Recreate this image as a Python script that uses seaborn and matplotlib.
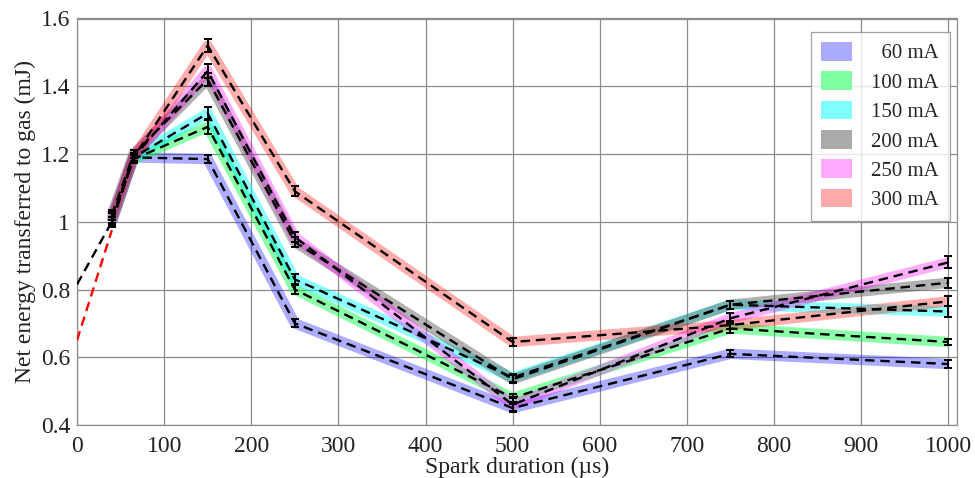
import matplotlib
matplotlib.use("Agg")
import matplotlib.pyplot as plt
from matplotlib.patches import Patch
import numpy as np
import pandas as pd
import seaborn as sns

# Spark durations (µs) at which the energy was measured
durations = [40, 65, 150, 250, 500, 750, 1000]

# Net energy transferred to the gas (mJ) for each discharge current
currents = ["60 mA", "100 mA", "150 mA", "200 mA", "250 mA", "300 mA"]
e_60 = [1.00, 1.19, 1.185, 0.70, 0.45, 0.61, 0.58]
e_100 = [1.01, 1.185, 1.28, 0.80, 0.48, 0.685, 0.645]
e_150 = [1.00, 1.19, 1.32, 0.83, 0.54, 0.755, 0.735]
e_200 = [1.02, 1.20, 1.42, 0.94, 0.535, 0.755, 0.82]
e_250 = [1.01, 1.19, 1.445, 0.955, 0.46, 0.715, 0.88]
e_300 = [1.00, 1.19, 1.52, 1.09, 0.645, 0.695, 0.765]

# Measurement uncertainty (mJ)
err_60 = [0.015, 0.012, 0.012, 0.012, 0.012, 0.010, 0.012]
err_100 = [0.015, 0.012, 0.020, 0.012, 0.012, 0.012, 0.010]
err_150 = [0.015, 0.012, 0.018, 0.015, 0.012, 0.012, 0.015]
err_200 = [0.015, 0.012, 0.018, 0.015, 0.012, 0.012, 0.015]
err_250 = [0.020, 0.012, 0.020, 0.015, 0.020, 0.015, 0.018]
err_300 = [0.015, 0.012, 0.020, 0.015, 0.012, 0.012, 0.015]

# Linear extrapolation towards zero duration
extrap_x = [0, 40]
extrap_black = [0.815, 1.00]
extrap_red = [0.65, 0.975]

energies = [e_60, e_100, e_150, e_200, e_250, e_300]
errors = [err_60, err_100, err_150, err_200, err_250, err_300]

band_colors = [
    (0.0, 0.0, 1.0, 0.32),
    (0.0, 1.0, 0.25, 0.45),
    (0.0, 1.0, 1.0, 0.45),
    (0.33, 0.33, 0.33, 0.45),
    (1.0, 0.0, 1.0, 0.32),
    (1.0, 0.0, 0.0, 0.32),
]
legend_colors = ["#aaaaff", "#80ffa0", "#80ffff", "#aaaaaa", "#ffaaff", "#ffaaaa"]

rows = []
for cur, vals, errs in zip(currents, energies, errors):
    for d, v, e in zip(durations, vals, errs):
        rows.append({"current": cur, "duration": d, "energy": v, "err": e})
df = pd.DataFrame(rows)

sns.set_theme(style="whitegrid")
plt.rcParams["font.family"] = ["Liberation Serif", "DejaVu Serif"]

fig = plt.figure(figsize=(9.75, 4.78), dpi=100)
ax = fig.add_axes([77 / 975, 1 - 425 / 478, (957 - 77) / 975, (425 - 18.5) / 478])

# Shaded bands following each series
for cur, col in zip(currents, band_colors):
    sub = df[df["current"] == cur]
    sns.lineplot(data=sub, x="duration", y="energy", ax=ax, color=col[:3],
                 alpha=col[3], lw=7.5, solid_joinstyle="round",
                 solid_capstyle="butt", sort=False, legend=False, zorder=2)

# Dashed black curves with error bars
for cur in currents:
    sub = df[df["current"] == cur]
    sns.lineplot(data=sub, x="duration", y="energy", ax=ax, color="black",
                 lw=1.7, sort=False, legend=False, zorder=4,
                 linestyle=(0, (4, 2.5)))
    ax.errorbar(sub["duration"], sub["energy"], yerr=sub["err"], fmt="none",
                ecolor="black", elinewidth=1.4, capsize=3, capthick=1.4,
                zorder=5)

sns.lineplot(x=extrap_x, y=extrap_black, ax=ax, color="black", lw=1.7,
             linestyle=(0, (4, 2.5)), zorder=4)
sns.lineplot(x=extrap_x, y=extrap_red, ax=ax, color="red", lw=1.7,
             linestyle=(0, (4, 2.5)), zorder=4)

ax.set_xlim(0, 1010)
ax.set_ylim(0.4, 1.6)
ax.set_xticks(np.arange(0, 1001, 100))
ax.set_yticks([0.4, 0.6, 0.8, 1.0, 1.2, 1.4, 1.6])
ax.set_yticklabels(["0.4", "0.6", "0.8", "1", "1.2", "1.4", "1.6"])
ax.grid(True, color="#8c8c8c", lw=0.9)
ax.set_axisbelow(True)
for s in ax.spines.values():
    s.set_visible(True)
    s.set_color("#8c8c8c")
    s.set_linewidth(0.9)
ax.tick_params(axis="both", length=0, labelsize=17, colors="#222222")
ax.tick_params(axis="x", pad=8)
ax.tick_params(axis="y", pad=5)

ax.set_xlabel("Spark duration (µs)", fontsize=17, labelpad=0, color="#222222")
ax.set_ylabel("Net energy transferred to gas (mJ)", fontsize=17, labelpad=3,
              color="#222222")

handles = [Patch(facecolor=c, edgecolor="none") for c in legend_colors]
labels = ["  60 mA", "100 mA", "150 mA", "200 mA", "250 mA", "300 mA"]
leg = ax.legend(handles, labels, loc="upper right", bbox_to_anchor=(0.9915, 0.968),
                fontsize=15, frameon=True, fancybox=False, handlelength=1.45,
                handleheight=1.0, handletextpad=0.95, labelspacing=0.38,
                borderpad=0.5, borderaxespad=0)
leg.get_frame().set_edgecolor("#8c8c8c")
leg.get_frame().set_linewidth(0.9)

fig.savefig("out.png", dpi=100)
